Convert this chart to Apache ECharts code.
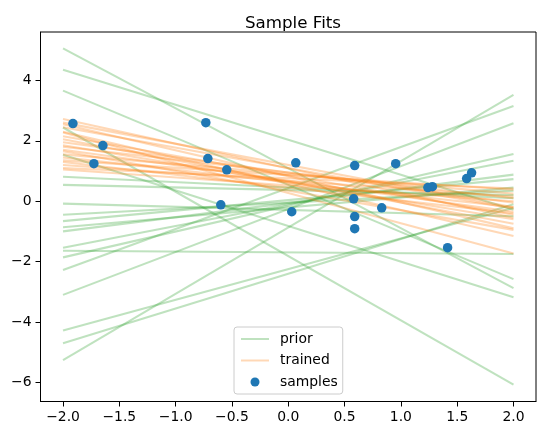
<!DOCTYPE html>
<html>
<head>
<meta charset="utf-8">
<script src="https://cdn.jsdelivr.net/npm/echarts@6/dist/echarts.min.js"></script>
<style>html,body{margin:0;padding:0;background:#fff}#c{width:546px;height:435px}</style>
</head>
<body>
<div id="c"></div>
<script>
// x positions of every fitted line (endpoints)
const lineX = [-2, 2];
// prior lines: y at x=-2 and y at x=2
const priorLeft  = [5.06, 4.35, 3.66, 2.44, 1.54, 0.81, 0.54, -0.08, -0.45, -0.66, -0.86, -1.00, -1.54, -1.64, -1.86, -2.28, -3.10, -4.28, -4.70, -5.26];
const priorRight = [-2.88, -0.28, -2.58, -6.07, -3.18, 0.10, 0.20, -0.50, 0.35, 0.73, 0.45, 0.88, 1.34, -1.75, 1.56, 3.15, 2.58, -0.22, -0.10, 3.52];
// trained lines: y at x=-2 and y at x=2
const trainedLeft  = [2.72, 2.55, 2.45, 2.30, 2.27, 2.15, 2.05, 1.95, 1.85, 1.80, 1.70, 1.65, 1.55, 1.45, 1.35, 1.30, 1.20, 1.10, 1.05, 2.60];
const trainedRight = [-0.55, -0.90, -0.25, -1.15, -1.73, -0.45, -0.75, -0.05, -0.60, 0.10, -0.35, -0.95, 0.25, -0.20, 0.38, -0.40, 0.15, 0.42, 0.00, -0.20];
// samples
const sampleX = [-1.912, -1.646, -1.726, -0.732, -0.714, -0.546, -0.599, 0.031, 0.067, 0.590, 0.581, 0.590, 0.590, 0.830, 0.954, 1.240, 1.280, 1.584, 1.628, 1.415];
const sampleY = [2.57, 1.84, 1.24, 2.60, 1.41, 1.04, -0.12, -0.35, 1.27, 1.18, 0.08, -0.51, -0.91, -0.22, 1.24, 0.45, 0.48, 0.75, 0.94, -1.54];
// axis ticks
const xTicks = [-2.0, -1.5, -1.0, -0.5, 0.0, 0.5, 1.0, 1.5, 2.0];
const yTicks = [-6, -4, -2, 0, 2, 4];

const FONT = 'DejaVu Sans';
const minus = v => (v < 0 ? '\u2212' : '') + Math.abs(v);

const series = [];
priorLeft.forEach((l, i) => {
  series.push({
    name: 'prior', type: 'line', data: [[lineX[0], l], [lineX[1], priorRight[i]]],
    showSymbol: false, symbol: 'none', silent: true,
    lineStyle: { color: '#2ca02c', width: 2.08, opacity: 0.3 },
    itemStyle: { color: '#2ca02c', opacity: 0.3 }, z: 2
  });
});
trainedLeft.forEach((l, i) => {
  series.push({
    name: 'trained', type: 'line', data: [[lineX[0], l], [lineX[1], trainedRight[i]]],
    showSymbol: false, symbol: 'none', silent: true,
    lineStyle: { color: '#ff7f0e', width: 2.08, opacity: 0.3 },
    itemStyle: { color: '#ff7f0e', opacity: 0.3 }, z: 3
  });
});
series.push({
  name: 'samples', type: 'scatter', data: sampleX.map((x, i) => [x, sampleY[i]]),
  symbolSize: 9.5, itemStyle: { color: '#1f77b4', opacity: 1 }, z: 4
});

const chart = echarts.init(document.getElementById('c'), null, { renderer: 'canvas' });
chart.setOption({
  animation: false,
  backgroundColor: '#fff',
  textStyle: { fontFamily: FONT },
  title: {
    text: 'Sample Fits', left: 288, top: 10, textAlign: 'center',
    textStyle: { fontFamily: FONT, fontSize: 16.7, fontWeight: 'normal', color: '#000' }
  },
  grid: { left: 40.5, top: 32, width: 495.5, height: 369.5, show: true, borderColor: '#000', borderWidth: 1, backgroundColor: 'transparent' },
  legend: {
    orient: 'vertical', left: 234, top: 327,
    data: [
      { name: 'prior', itemStyle: { opacity: 0 } },
      { name: 'trained', itemStyle: { opacity: 0 } },
      { name: 'samples', icon: 'circle' }
    ],
    itemWidth: 28, itemHeight: 9, itemGap: 5.5,
    padding: [4, 5, 4, 6],
    borderColor: '#cccccc', borderWidth: 1, borderRadius: 3,
    backgroundColor: 'rgba(255,255,255,0.8)',
    textStyle: { fontFamily: FONT, fontSize: 13.9, color: '#000', lineHeight: 16, padding: [0, 0, 0, 6] },
    selectedMode: false
  },
  xAxis: {
    type: 'value', min: -2.2, max: 2.2,
    axisLine: { show: true, onZero: false, lineStyle: { color: '#000', width: 1 } },
    axisTick: { show: true, customValues: xTicks, length: 5, lineStyle: { color: '#000', width: 1 } },
    axisLabel: { customValues: xTicks, margin: 9, color: '#000', fontFamily: FONT, fontSize: 13.9,
      formatter: v => (v < 0 ? '\u2212' : '') + Math.abs(v).toFixed(1) },
    splitLine: { show: false }
  },
  yAxis: {
    type: 'value', min: -6.63, max: 5.6,
    axisLine: { show: true, onZero: false, lineStyle: { color: '#000', width: 1 } },
    axisTick: { show: true, customValues: yTicks, length: 5, lineStyle: { color: '#000', width: 1 } },
    axisLabel: { customValues: yTicks, margin: 9, color: '#000', fontFamily: FONT, fontSize: 13.9,
      formatter: v => minus(v) },
    splitLine: { show: false }
  },
  series: series
});
</script>
</body>
</html>
